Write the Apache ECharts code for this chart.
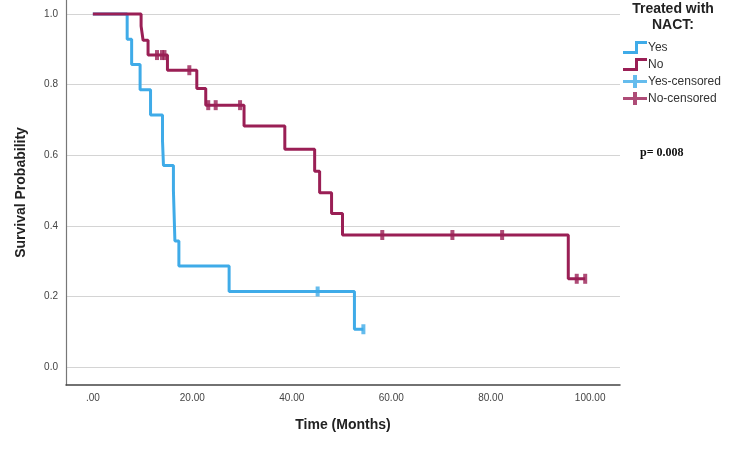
<!DOCTYPE html>
<html><head><meta charset="utf-8">
<script src="https://cdn.jsdelivr.net/npm/echarts@6/dist/echarts.min.js"></script>
<style>html,body{margin:0;padding:0;background:#fff}#c{width:750px;height:451px}</style>
</head><body><div id="c"></div>
<script>
// Kaplan-Meier step points [time, survival after event]
const yesSteps = [[0,1],[6.9,0.929],[7.8,0.857],[9.5,0.786],[11.6,0.714],[14.0,0.643],[14.2,0.571],[16.2,0.5],[16.5,0.357],[17.3,0.286],[27.4,0.214],[52.6,0.107],[54.4,0.107]];
const noSteps = [[0,1],[9.7,0.966],[10.1,0.926],[11.1,0.884],[15.0,0.841],[20.9,0.789],[22.7,0.742],[30.4,0.683],[38.6,0.617],[44.6,0.555],[45.6,0.494],[48.0,0.435],[50.2,0.374],[95.6,0.25],[99.0,0.25]];
const yesCensored = [[45.2,0.214],[54.4,0.107]];
const noCensored = [[12.9,0.884],[13.9,0.884],[14.4,0.884],[19.4,0.841],[23.2,0.742],[24.7,0.742],[29.6,0.742],[58.2,0.374],[72.3,0.374],[82.3,0.374],[97.3,0.25],[99.0,0.25]];
const xTicks = [0,20,40,60,80,100];
const yTicks = [0,0.2,0.4,0.6,0.8,1.0];
const legendTitle = 'Treated with\nNACT:';
const pText = 'p= 0.008';

const BLUE = '#3fabe8', RED = '#9a1f55';
const stepIcon = 'path://M0,10 L12,10 L12,0 L24,0 L24,3 L15,3 L15,13 L0,13 Z';
const crossIcon = 'path://M0,5 L10,5 L10,0 L14,0 L14,5 L24,5 L24,8 L14,8 L14,13 L10,13 L10,8 L0,8 Z';
const tickFont = {fontFamily:'Liberation Sans', fontSize:10, color:'#444'};

const chart = echarts.init(document.getElementById('c'));
chart.setOption({
  animation:false,
  title:{text:legendTitle, left:668, top:-4, textAlign:'center',
    textStyle:{fontFamily:'Liberation Sans', fontWeight:'bold', fontSize:14, lineHeight:16, color:'#222'}},
  legend:{orient:'vertical', left:618, top:36, itemGap:4, itemWidth:24, itemHeight:13,
    textStyle:{fontFamily:'Liberation Sans', fontSize:12, color:'#333', padding:[0,0,0,-4]},
    data:[{name:'Yes',icon:stepIcon},{name:'No',icon:stepIcon},{name:'Yes-censored',icon:crossIcon},{name:'No-censored',icon:crossIcon}]},
  graphic:[{type:'text', left:640, top:147, style:{text:pText, font:'bold 12px "Liberation Serif"', fill:'#111'}}],
  grid:{left:66, right:130, top:0, bottom:66},
  xAxis:{type:'value', min:-5.4, max:106,
    name:'Time (Months)', nameLocation:'middle', nameGap:33,
    nameTextStyle:{fontFamily:'Liberation Sans', fontWeight:'bold', fontSize:14, color:'#222'},
    axisLine:{show:true, onZero:false, lineStyle:{color:'#444', width:1.5}},
    axisTick:{show:false, customValues:xTicks},
    splitLine:{show:false},
    axisLabel:{customValues:xTicks, margin:8, ...tickFont, formatter:v=> v===0?'.00':v.toFixed(2)}},
  yAxis:{type:'value', min:-0.051, max:1.04,
    name:'Survival Probability', nameLocation:'middle', nameGap:38,
    nameTextStyle:{fontFamily:'Liberation Sans', fontWeight:'bold', fontSize:14, color:'#222'},
    axisLine:{show:true, onZero:false, lineStyle:{color:'#777', width:1.2}},
    axisTick:{show:false, customValues:yTicks},
    splitLine:{show:true, lineStyle:{color:'#d4d4d4', width:1.2}},
    axisLabel:{customValues:yTicks, margin:8, ...tickFont, formatter:v=>v.toFixed(1)}},
  series:[
    {name:'Yes', type:'line', step:'end', data:yesSteps, showSymbol:false, symbol:'none', lineStyle:{color:BLUE, width:3}, itemStyle:{color:BLUE}, z:3},
    {name:'No', type:'line', step:'end', data:noSteps, showSymbol:false, symbol:'none', lineStyle:{color:RED, width:3}, itemStyle:{color:RED}, z:3},
    {name:'Yes-censored', type:'scatter', data:yesCensored, symbol:'rect', symbolSize:[4,10], itemStyle:{color:BLUE}, z:4},
    {name:'No-censored', type:'scatter', data:noCensored, symbol:'rect', symbolSize:[4,10], itemStyle:{color:RED}, z:4}
  ]
});
</script></body></html>
